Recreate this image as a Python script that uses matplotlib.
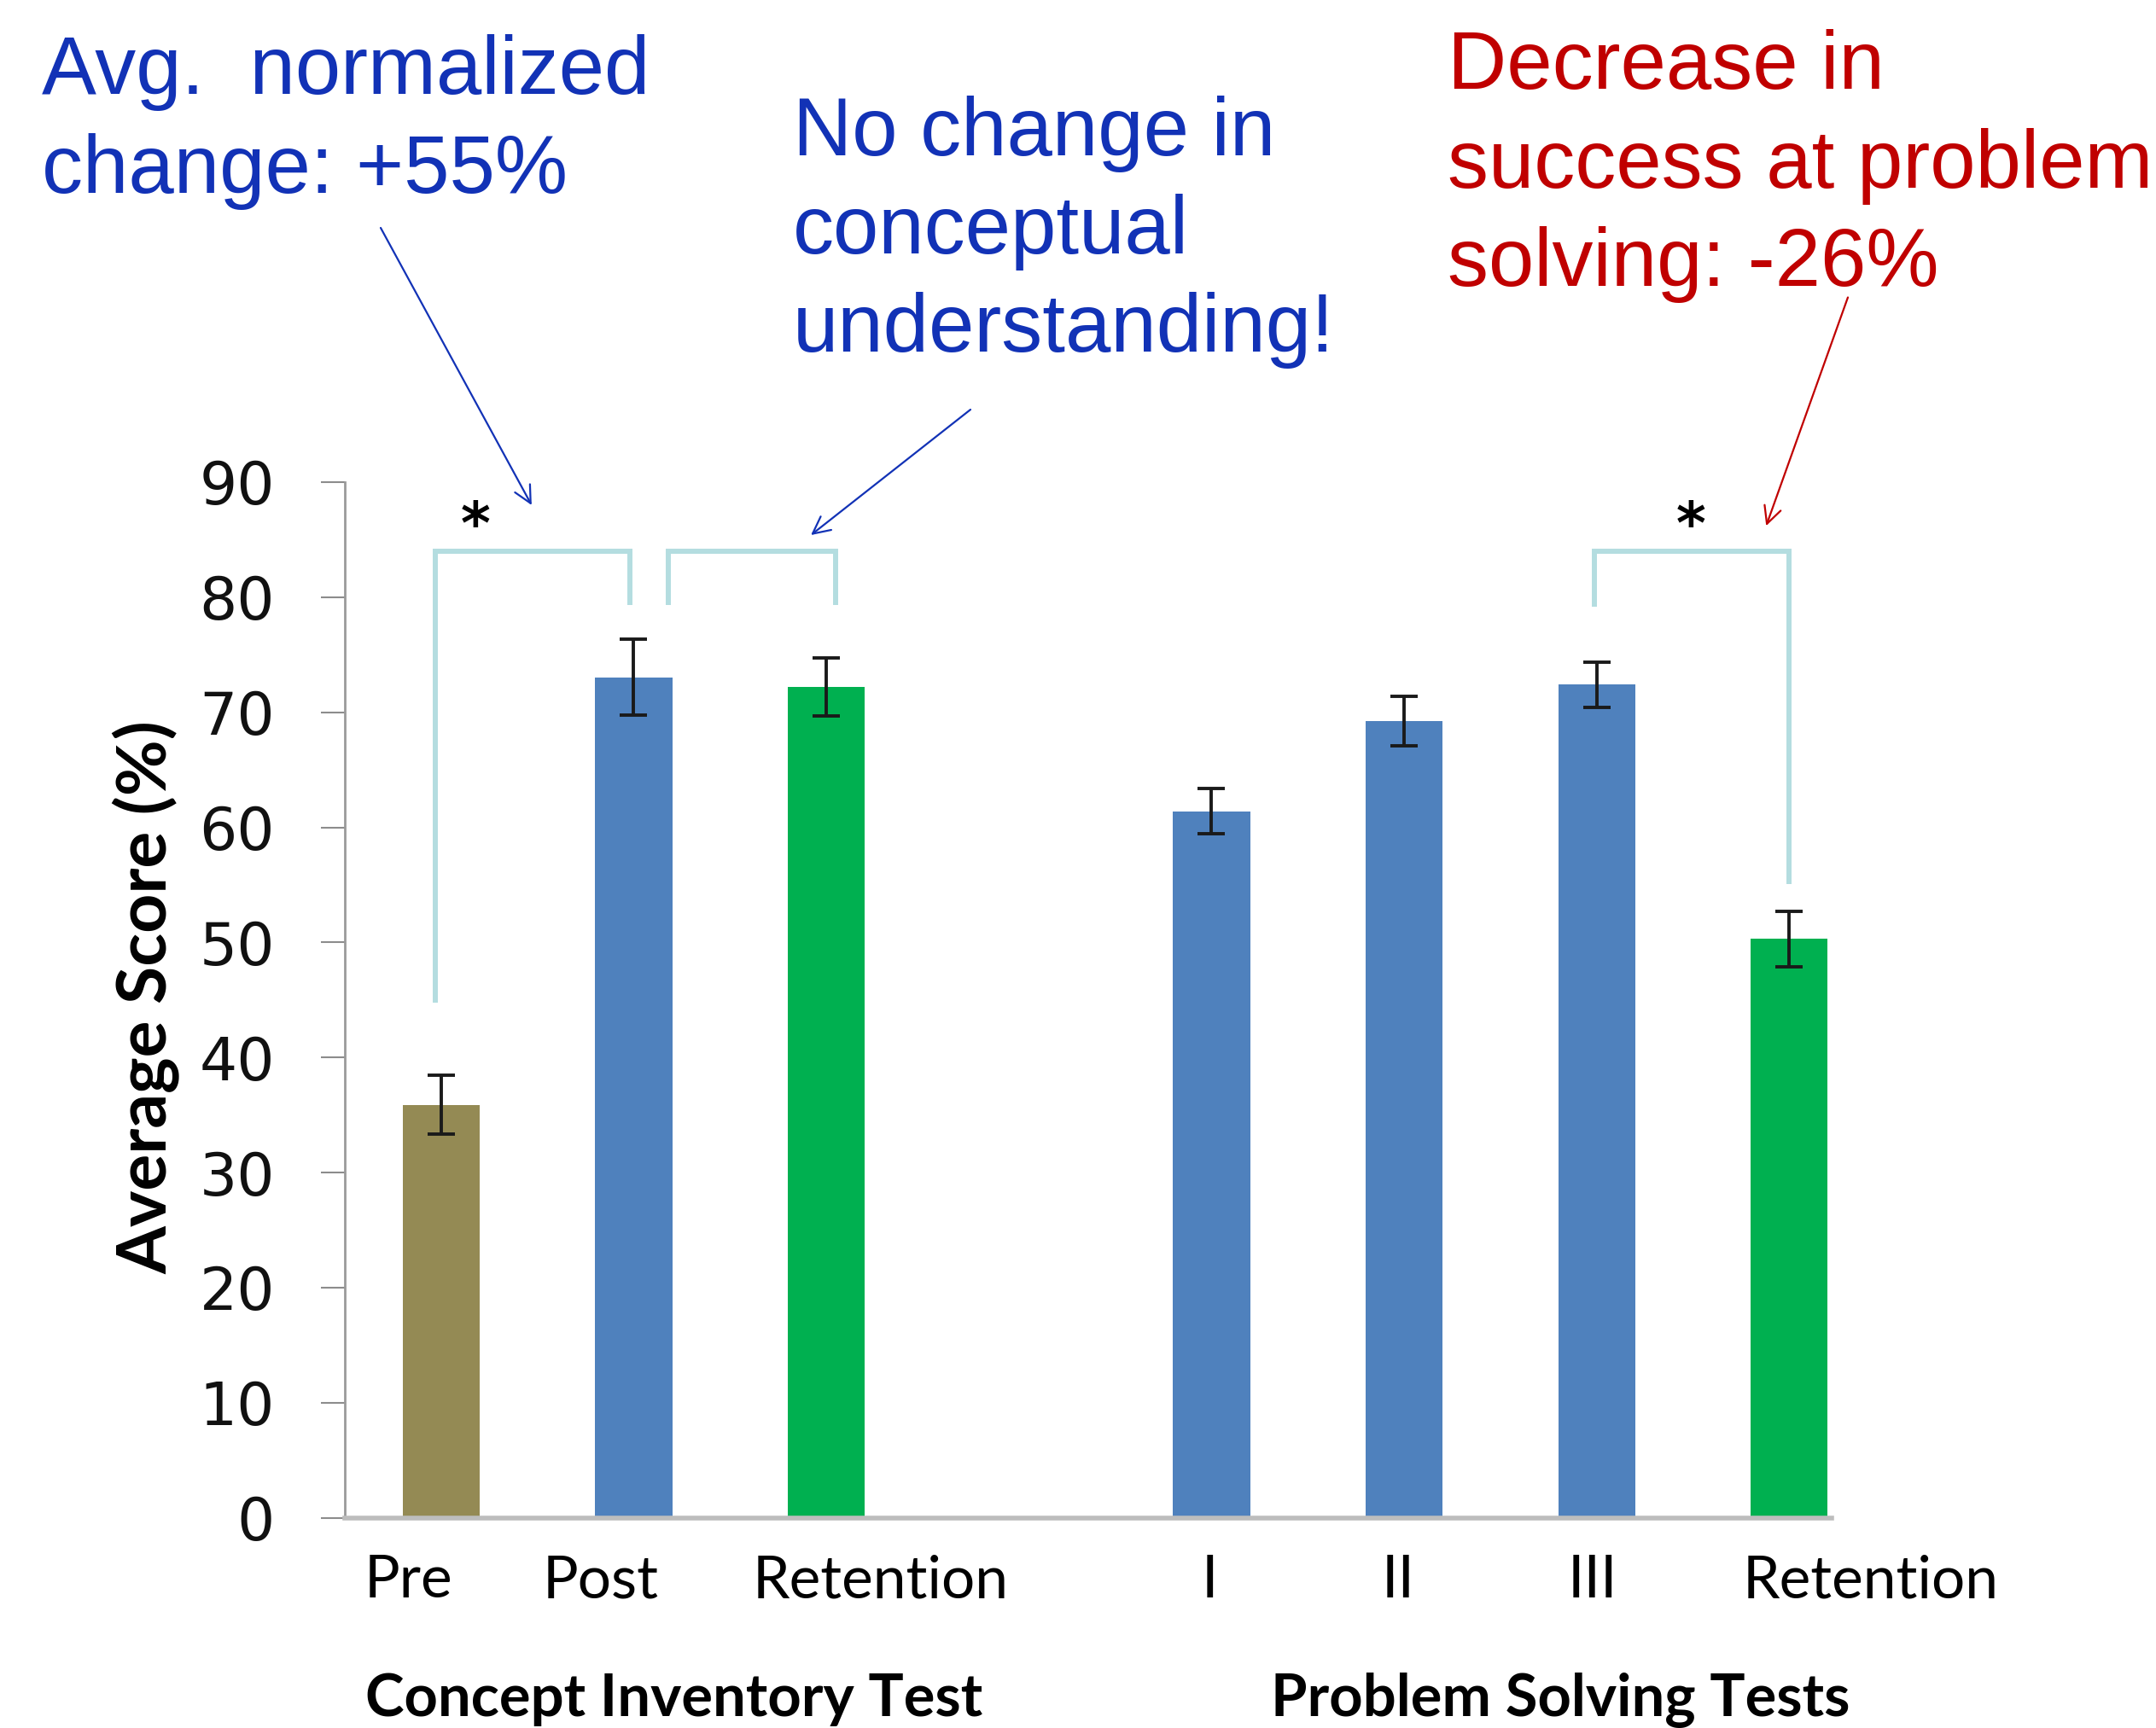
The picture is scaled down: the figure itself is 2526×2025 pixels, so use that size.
import numpy as np
import matplotlib
matplotlib.use("Agg")
import matplotlib.pyplot as plt

# bar data
categories = ["Pre", "Post", "Retention", "I", "II", "III", "Retention"]
bar_x = [0, 1, 2, 4, 5, 6, 7]
scores = [35.9, 73.05, 72.2, 61.4, 69.2, 72.4, 50.3]
errors = [2.55, 3.3, 2.55, 1.95, 2.15, 1.95, 2.4]
bar_colors = ["#948A54", "#4F81BD", "#00B050", "#4F81BD", "#4F81BD", "#4F81BD", "#00B050"]

# where the category names sit (they are not centred under the bars)
label_x = [-0.17, 0.83, 2.28, 3.99, 4.97, 5.98, 7.42]
group_names = ["Concept Inventory Test", "Problem Solving Tests"]
group_x = [1.21, 5.81]

y_ticks = [0, 10, 20, 30, 40, 50, 60, 70, 80, 90]

# significance brackets: x_left, x_right, y_top, y_left_end, y_right_end, star
brackets = [
    (-0.03, 0.98, 84.0, 44.75, 79.3, True),
    (1.18, 2.05, 84.0, 79.3, 79.3, False),
    (5.99, 7.0, 84.0, 79.2, 55.1, True),
]

W, H = 2526, 2025
DPI = 100

def fx(px):
    return px / W

def fy(py):
    return 1 - py / H

fig = plt.figure(figsize=(W / DPI, H / DPI), dpi=DPI)
ax = fig.add_axes([fx(404), fy(1778.6), fx(2146) - fx(404), fy(565) - fy(1778.6)])

ax.bar(bar_x, scores, width=0.4, color=bar_colors, zorder=2)
ax.errorbar(bar_x, scores, yerr=errors, fmt="none", ecolor="#1a1a1a",
            elinewidth=2.8, capsize=11.5, capthick=2.8, zorder=3)

ax.set_xlim(-0.5, 7.22)
ax.set_ylim(0, 90)
ax.set_yticks(y_ticks)
ax.set_xticks([])
for s in ["top", "right"]:
    ax.spines[s].set_visible(False)
ax.spines["left"].set_color("#9a9a9a")
ax.spines["left"].set_linewidth(2)
ax.spines["bottom"].set_color("#bdbdbd")
ax.spines["bottom"].set_linewidth(4)
ax.tick_params(axis="y", direction="out", length=20, width=1.5, color="#8c8c8c",
               pad=39, labelsize=50, labelcolor="#111111")
for t in ax.get_yticklabels():
    t.set_fontfamily("DejaVu Sans")

for x, name in zip(label_x, categories):
    ax.text(x, -6.93, name, ha="center", va="baseline", fontsize=50,
            family="Lato", color="black", clip_on=False)
for x, name in zip(group_x, group_names):
    ax.text(x, -17.2, name, ha="center", va="baseline", fontsize=49.5,
            family="Lato", fontweight="bold", color="black", clip_on=False)

fig.text(fx(171), fy(1169), "Average Score (%)", rotation=90, ha="center", va="center",
         fontsize=58, family="Lato", fontweight="bold", color="black")

bracket_color = "#B4DDE0"
for x0, x1, ytop, y0, y1, star in brackets:
    ax.plot([x0, x0, x1, x1], [y0, ytop, ytop, y1], color=bracket_color,
            lw=4.3, solid_capstyle="butt", solid_joinstyle="miter",
            clip_on=False, zorder=1)
    if star:
        ax.text(x0 + 0.21 if x0 < 0.5 else x0 + 0.5, 86.1, "*", ha="center", va="center",
                fontsize=48, fontweight="bold", family="DejaVu Sans", color="black")

# annotations
blue = "#1232B6"
red = "#C00000"
notes = [
    (49, [110, 225.7], ["Avg.  normalized", "change: +55%"], blue),
    (928.6, [181.7, 296.7, 411.7], ["No change in", "conceptual", "understanding!"], blue),
    (1696, [103.7, 220, 335], ["Decrease in", "success at problem", "solving: -26%"], red),
]
for left, baselines, lines, col in notes:
    for b, line in zip(baselines, lines):
        fig.text(fx(left), fy(b), line, ha="left", va="baseline", fontsize=69,
                 family="Liberation Sans", color=col)

arrows = [
    ((446, 267), (0.47, 88.0), blue),
    ((1137, 480), (1.92, 85.4), blue),
    ((2165, 348.5), (6.88, 86.2), red),
]
for (tx, ty), tip, col in arrows:
    ax.annotate("", xy=tip, xycoords="data", xytext=(fx(tx), fy(ty)),
                textcoords="figure fraction", annotation_clip=False,
                arrowprops=dict(arrowstyle="->,head_length=0.9,head_width=0.45",
                                color=col, lw=1.6, shrinkA=0, shrinkB=0,
                                mutation_scale=16))

fig.savefig("out.png", dpi=DPI)
